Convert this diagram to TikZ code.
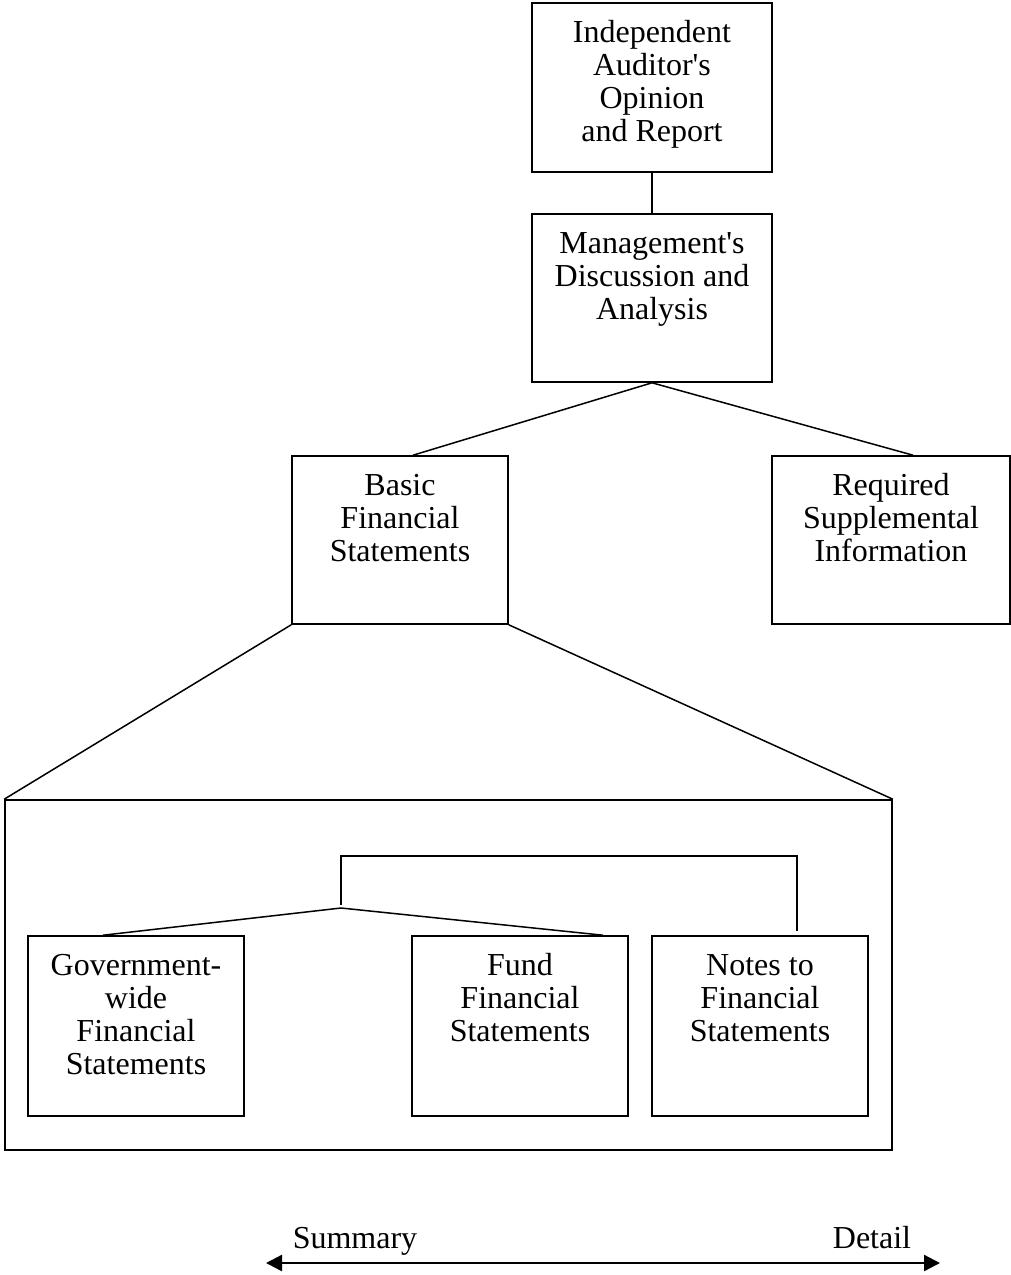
\documentclass[tikz,border=0pt]{standalone}
\usepackage{fontspec}
\setmainfont{Liberation Serif}[Ligatures=TeXOff]
\usetikzlibrary{arrows.meta,positioning}
\tikzset{
  link/.style      = {line width=0.75pt},
  rep box/.style   = {draw, line width=0.8pt, inner sep=0pt,
                      font=\fontsize{16}{16.5}\selectfont},
  frame box/.style = {draw, line width=0.8pt, inner sep=0pt},
  span arrow/.style= {{Triangle[length=8pt,width=8pt]}-{Triangle[length=8pt,width=8pt]},
                      line width=1.2pt},
  end label/.style = {font=\fontsize{16}{16.5}\selectfont, anchor=base, inner sep=0pt},
}
\newcommand{\boxtext}[3]{\parbox[c][#1][t]{#2}{\centering\vspace*{8pt}\strut #3}}

\begin{document}
\begin{tikzpicture}[x=0.5pt,y=-0.5pt]
  \useasboundingbox (0,0) rectangle (1011,1275);

  % ---- upper part of the report ------------------------------------------
  \node[rep box] (audit) at (652,87.5)
      {\boxtext{84.5pt}{120pt}{Independent\\Auditor's\\Opinion\\and Report}};
  \node[rep box] (mda) at (652,298)
      {\boxtext{84pt}{120pt}{Management's\\Discussion and\\Analysis}};
  \node[rep box] (basic) at (400,540)
      {\boxtext{84pt}{108pt}{Basic\\Financial\\Statements}};
  \node[rep box] (rsi) at (891,540)
      {\boxtext{84pt}{119pt}{Required\\Supplemental\\Information}};

  \draw[link] (audit.south) -- (mda.north);
  \draw[link] (mda.south) -- ([xshift=6.5pt]basic.north);
  \draw[link] (mda.south) -- ([xshift=11pt]rsi.north);

  % ---- basic financial statements, opened up -----------------------------
  \node[frame box, minimum width=443.5pt, minimum height=175pt] (frame) at (448.5,975) {};
  \draw[link] (basic.south west) -- (frame.north west);
  \draw[link] (basic.south east) -- (frame.north east);

  \node[rep box] (gwfs) at (136,1026)
      {\boxtext{90pt}{108pt}{Government-\\wide\\Financial\\Statements}};
  \node[rep box] (ffs) at (520,1026)
      {\boxtext{90pt}{108pt}{Fund\\Financial\\Statements}};
  \node[rep box] (nfs) at (760,1026)
      {\boxtext{90pt}{108pt}{Notes to\\Financial\\Statements}};

  \coordinate (fork) at (341,908);
  \coordinate (bar) at (341,856);
  \draw[link] ([xshift=-16.5pt]gwfs.north) -- (fork) -- ([xshift=41.5pt]ffs.north);
  \draw[link] ([yshift=1.5pt]fork) -- (bar) -| ([xshift=18.5pt,yshift=2pt]nfs.north);

  % ---- summary / detail scale --------------------------------------------
  \coordinate (sumend) at (266,1263);
  \coordinate (detend) at (940,1263);
  \draw[span arrow] (sumend) -- (detend);
  \node[end label] (summary) at (355,1248) {Summary};
  \node[end label] (detail) at (872,1248) {Detail};
\end{tikzpicture}
\end{document}
